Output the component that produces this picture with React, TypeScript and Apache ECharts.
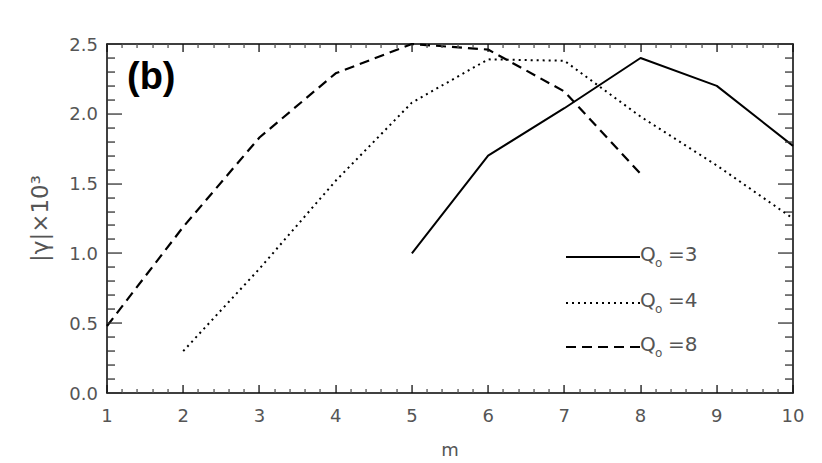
import React, { useEffect, useRef } from "react";
import * as echarts from "echarts";

const m3 = [5, 6, 7, 8, 9, 10];
const q3 = [1.0, 1.7, 2.04, 2.4, 2.2, 1.77];
const m4 = [2, 3, 4, 5, 6, 7, 8, 9, 10];
const q4 = [0.3, 0.89, 1.52, 2.08, 2.39, 2.38, 1.98, 1.63, 1.25];
const m8 = [1, 2, 3, 4, 5, 6, 7, 8];
const q8 = [0.48, 1.19, 1.83, 2.29, 2.5, 2.46, 2.16, 1.57];
const legendValues = ["3", "4", "8"];

const X_MIN = 1, X_MAX = 10, X_STEP = 1, X_MINOR = 5;
const Y_MIN = 0, Y_MAX = 2.5, Y_STEP = 0.5, Y_MINOR = 5;

const FONT = "DejaVu Sans";
const LABEL_COLOR = "#555";

export default function App() {
  const ref = useRef<HTMLDivElement>(null);
  useEffect(() => {
    if (!ref.current) return;
    const chart = echarts.init(ref.current, null, { renderer: "svg" });
    const zip = (xs: number[], ys: number[]) => xs.map((x, i) => [x, ys[i]]);

    const frameAxis = {
      splitLine: { show: false },
      axisLine: { show: true, onZero: false, lineStyle: { color: "#000", width: 1.5 } },
      axisTick: { show: false },
      minorTick: { show: false },
    };

    chart.setOption({
      animation: false,
      backgroundColor: "#fff",
      grid: { left: 107, top: 44, right: 29, bottom: 65, containLabel: false },
      xAxis: [
        {
          type: "value",
          min: X_MIN,
          max: X_MAX,
          interval: X_STEP,
          position: "bottom",
          ...frameAxis,
          name: "m",
          nameLocation: "middle",
          nameGap: 47,
          nameTextStyle: { fontFamily: FONT, fontSize: 18, color: LABEL_COLOR },
          axisLabel: { margin: 13, fontFamily: FONT, fontSize: 18, color: LABEL_COLOR },
        },
        {
          type: "value",
          min: X_MIN,
          max: X_MAX,
          interval: X_STEP,
          position: "top",
          ...frameAxis,
          axisLabel: { show: false },
        },
      ],
      yAxis: [
        {
          type: "value",
          min: Y_MIN,
          max: Y_MAX,
          interval: Y_STEP,
          position: "left",
          ...frameAxis,
          name: "|γ|×10³",
          nameLocation: "middle",
          nameGap: 56,
          nameTextStyle: { fontFamily: FONT, fontSize: 23, color: LABEL_COLOR },
          axisLabel: {
            margin: 9,
            fontFamily: FONT,
            fontSize: 18,
            color: LABEL_COLOR,
            formatter: (v: number) => v.toFixed(1),
          },
        },
        {
          type: "value",
          min: Y_MIN,
          max: Y_MAX,
          interval: Y_STEP,
          position: "right",
          ...frameAxis,
          axisLabel: { show: false },
        },
      ],
      series: [
        {
          type: "line",
          name: "Q=3",
          data: zip(m3, q3),
          symbol: "none",
          clip: false,
          lineStyle: { color: "#000", width: 2, type: "solid" },
        },
        {
          type: "line",
          name: "Q=4",
          data: zip(m4, q4),
          symbol: "none",
          clip: false,
          lineStyle: { color: "#000", width: 2, type: [2, 4] },
        },
        {
          type: "line",
          name: "Q=8",
          data: zip(m8, q8),
          symbol: "none",
          clip: false,
          lineStyle: { color: "#000", width: 2.2, type: [10, 6] },
        },
      ],
    });

    // ticks on all four sides, placed with the chart's own scales
    const px = (x: number, y: number) => chart.convertToPixel({ gridIndex: 0 }, [x, y]) as number[];
    const ticks: any[] = [];
    const bar = (x: number, y: number, w: number, h: number, color: string) =>
      ticks.push({ type: "rect", shape: { x, y, width: w, height: h }, style: { fill: color }, silent: true, z: 50 });
    const nx = Math.round((X_MAX - X_MIN) / X_STEP) * X_MINOR;
    for (let i = 0; i <= nx; i++) {
      const v = X_MIN + (i * X_STEP) / X_MINOR;
      const major = i % X_MINOR === 0;
      const len = major ? 8 : 4;
      const b = px(v, Y_MIN);
      const t = px(v, Y_MAX);
      const x = Math.round(b[0]) - 0.6;
      const c = major ? "#111" : "#555";
      bar(x, b[1] - len, 1.3, len, c);
      bar(x, t[1], 1.3, len, c);
    }
    const ny = Math.round((Y_MAX - Y_MIN) / Y_STEP) * Y_MINOR;
    for (let i = 0; i <= ny; i++) {
      const v = Y_MIN + (i * Y_STEP) / Y_MINOR;
      const major = i % Y_MINOR === 0;
      const len = major ? 15 : 8;
      const l = px(X_MIN, v);
      const r = px(X_MAX, v);
      const y = Math.round(l[1]) - 0.6;
      bar(l[0], y, len, 1.3, "#333");
      bar(r[0] - len, y, len, 1.3, "#333");
    }

    const legendTop = [257, 303, 347];
    const legendDash: (number[] | null)[] = [null, [2, 4], [10, 6]];
    const graphics: any[] = [
      {
        type: "text",
        left: 127,
        top: 57,
        style: { text: "(b)", font: "bold 38px 'Liberation Sans'", fill: "#000" },
      },
    ];
    legendValues.forEach((v, i) => {
      const y = legendTop[i];
      graphics.push({
        type: "line",
        shape: { x1: 566, y1: y, x2: 640, y2: y },
        style: { stroke: "#000", lineWidth: 2, lineDash: legendDash[i] || undefined },
      });
      graphics.push({
        type: "text",
        x: 640,
        y: y - 3,
        style: { text: "Q", font: `20px '${FONT}'`, fill: LABEL_COLOR, verticalAlign: "middle", align: "left" },
      });
      graphics.push({
        type: "text",
        x: 655,
        y: y + 6,
        style: { text: "o", font: `12px '${FONT}'`, fill: LABEL_COLOR, verticalAlign: "middle", align: "left" },
      });
      graphics.push({
        type: "text",
        x: 668,
        y: y - 3,
        style: { text: "=" + v, font: `20px '${FONT}'`, fill: LABEL_COLOR, verticalAlign: "middle", align: "left" },
      });
    });

    chart.setOption({ graphic: [...ticks, ...graphics] });
    return () => chart.dispose();
  }, []);
  return <div ref={ref} style={{ width: 822, height: 463, position: "absolute", left: 0, top: 0 }} />;
}
